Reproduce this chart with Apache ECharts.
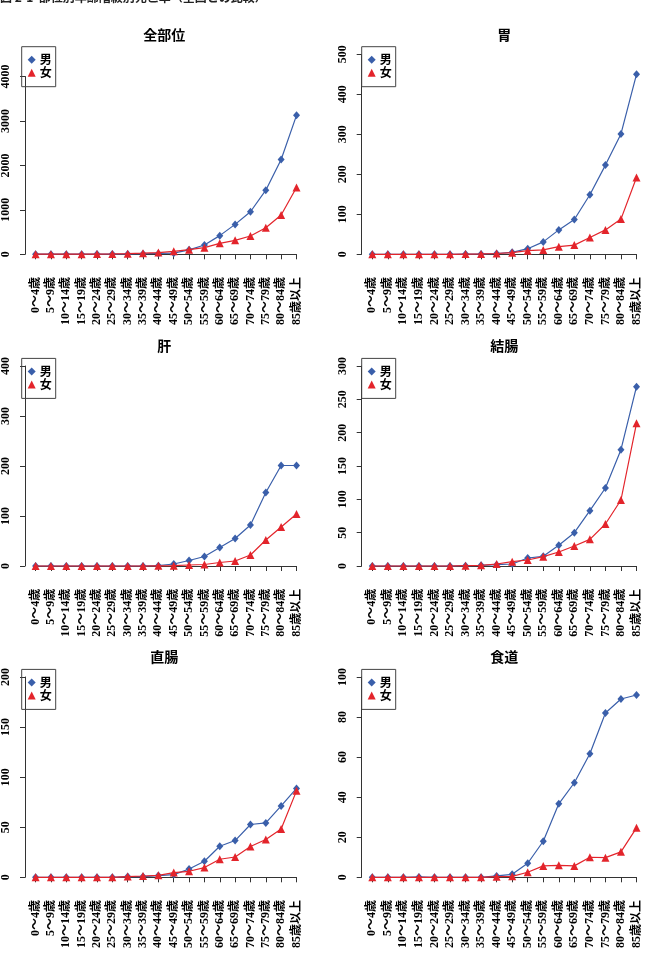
<!DOCTYPE html>
<html><head><meta charset="utf-8">
<script src="https://cdn.jsdelivr.net/npm/echarts@6/dist/echarts.min.js"></script>
<style>html,body{margin:0;padding:0;background:#fff;overflow:hidden}#c{width:657px;height:960px}</style>
</head><body><div id="c"></div>
<script>
// ---- data ----
const ageLabels = ['0～4歳','5～9歳','10～14歳','15～19歳','20～24歳','25～29歳','30～34歳','35～39歳','40～44歳','45～49歳','50～54歳','55～59歳','60～64歳','65～69歳','70～74歳','75～79歳','80～84歳','85歳以上'];
const panelTitles = ['全部位','胃','肝','結腸','直腸','食道'];
const seriesNames = ['男','女'];

const allMale   = [2,2,2,3,4,5,8,12,20,25,100,210,420,673,957,1443,2132,3126];
const allFemale = [2,2,2,3,5,8,15,25,38,67,105,150,247,314,411,598,883,1503];

const stomachMale   = [0,0,0,0,0,0,0.5,1,2,5,14,31,61,87,149,223,301,450];
const stomachFemale = [0,0,0,0,0,0,0.5,1,2,4,9,11,19,23,42,61,88,192];

const liverMale   = [0,0,0,0,0,0,0,0,0.7,4,11,19,37,55,82,147,201,201];
const liverFemale = [0,0,0,0,0,0,0,0,0.3,0.7,2,3,7,10,22,52,78,104];

const colonMale   = [0,0,0,0,0,0,0.5,1,2,3,12,14.5,31,50,83,117,174.5,269];
const colonFemale = [0,0,0,0,0,0,0.5,1,3,6.5,9,14,21,30,40,63,99,214];

const rectumMale   = [0,0,0,0,0,0,0.7,0.7,1.7,2.7,8.3,16,31,36.7,52.7,54.3,71.3,88.7];
const rectumFemale = [0,0,0,0,0,0,0.7,1.3,2,4.7,6,9.7,18,20.3,30.7,37.7,48.3,86.3];

const esophMale   = [0,0,0,0.2,0,0,0,0,0.7,1.5,7,18,36.7,47.2,61.7,82,89,91];
const esophFemale = [0,0,0,0,0,0,0,0,0.3,0.5,2.5,5.7,6,5.7,10,9.8,12.7,24.7];

const yMax      = [4000,500,400,300,200,100];
const yInterval = [1000,100,100,50,50,20];

// ---- layout ----
const panelData = [
  [allMale, allFemale],[stomachMale, stomachFemale],
  [liverMale, liverFemale],[colonMale, colonFemale],
  [rectumMale, rectumFemale],[esophMale, esophFemale]
];
const colLeft = [32.3, 372.3];
const colAxis = [21.7, 361.7];
const colWidth = 264.2;
const rowZero = [254.3, 566, 877.3];
const rowFullTop = [54.3, 366, 677];
const BLUE = '#3a5faa', RED = '#e3242b';
const serifFont = "'Liberation Serif','Noto Sans CJK JP',serif";
const cjkFont = "'Noto Sans CJK JP','Liberation Sans',sans-serif";

const grid=[], xAxis=[], yAxis=[], series=[], title=[], legend=[];
for (let i=0;i<6;i++){
  const col=i%2, row=Math.floor(i/2);
  const y0=rowZero[row];
  const h = (y0-rowFullTop[row]) * (i===0 ? 4000/4500 : 1);
  grid.push({left:colLeft[col], top:y0-h, width:colWidth, height:h, containLabel:false});
  xAxis.push({type:'category', gridIndex:i, data:ageLabels, boundaryGap:false, offset:8.7,
    axisLine:{lineStyle:{color:'#333',width:1}},
    axisTick:{interval:0, length:5, lineStyle:{color:'#333'}},
    axisLabel:{interval:0, rotate:90, margin:14, fontSize:12, fontWeight:'bold', color:'#000', fontFamily:serifFont},
    splitLine:{show:false}});
  yAxis.push({type:'value', gridIndex:i, min:0, max:yMax[i], interval:yInterval[i], offset:colLeft[col]-colAxis[col],
    axisLine:{show:true, lineStyle:{color:'#333',width:1}},
    axisTick:{show:true, length:5, lineStyle:{color:'#333'}},
    axisLabel:{rotate:90, margin:13, fontSize:12, fontWeight:'bold', color:'#000', fontFamily:serifFont,
      formatter:(v)=>String(v)},
    splitLine:{show:false}});
  series.push({name:seriesNames[0], type:'line', xAxisIndex:i, yAxisIndex:i, data:panelData[i][0],
    symbol:'diamond', symbolSize:[7,8], clip:false, z:3,
    itemStyle:{color:BLUE}, lineStyle:{color:BLUE, width:1.2}});
  series.push({name:seriesNames[1], type:'line', xAxisIndex:i, yAxisIndex:i, data:panelData[i][1],
    symbol:'triangle', symbolSize:8, clip:false, z:4,
    itemStyle:{color:RED}, lineStyle:{color:RED, width:1.2}});
  title.push({text:panelTitles[i], left:colAxis[col]+142.5, top:rowFullTop[row]-27, textAlign:'center', padding:0,
    textStyle:{fontSize:14, fontWeight:'bold', color:'#000', fontFamily:cjkFont}});
  legend.push({orient:'vertical', left:colAxis[col], top:rowFullTop[row]-7.6,
    data:[{name:seriesNames[0], icon:'diamond'},{name:seriesNames[1], icon:'triangle'}],
    itemWidth:8, itemHeight:8, itemGap:1, selectedMode:false,
    padding:[7,4,8,6], borderColor:'#444', borderWidth:1,
    textStyle:{fontSize:12, fontWeight:'bold', color:'#000', fontFamily:cjkFont, lineHeight:12, padding:[0,0,0,-1]}});
}

const chart = echarts.init(document.getElementById('c'), null, {renderer:'canvas'});
chart.setOption({
  backgroundColor:'#fff',
  animation:false,
  title, legend, grid, xAxis, yAxis, series,
  graphic:[{type:'text', left:0, top:-9, style:{text:'図 2-1  部位別年齢階級別死亡率（全国との比較）', fontSize:12, fontWeight:'bold', fill:'#222', fontFamily:cjkFont}}]
});
</script></body></html>
